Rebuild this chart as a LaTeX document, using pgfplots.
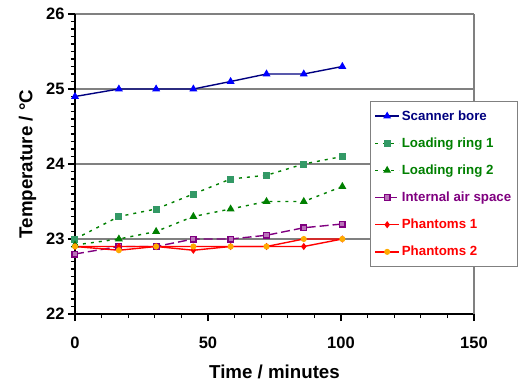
\documentclass[border=0pt]{standalone}
\usepackage{pgfplots}
\pgfplotsset{compat=1.18}
\usepackage{fontspec}
\setmainfont{Liberation Sans}
\definecolor{navyc}{RGB}{0,0,128}
\definecolor{bluem}{RGB}{0,0,255}
\definecolor{greenc}{RGB}{0,128,0}
\definecolor{seag}{RGB}{51,153,102}
\definecolor{purp}{RGB}{128,0,128}
\definecolor{redc}{RGB}{255,0,0}
\definecolor{orangem}{RGB}{255,170,0}
\definecolor{gridg}{RGB}{128,128,128}
\begin{document}
\begin{tikzpicture}[x=1pt,y=1pt]
\path[use as bounding box] (-75,-69) rectangle (455,314);
\begin{axis}[
  at={(0,0)}, anchor=south west, scale only axis,
  width=399pt, height=300pt,
  xmin=0, xmax=150, ymin=22, ymax=26,
  xtick={0,50,100,150}, ytick={22,23,24,25,26},
  minor x tick num=4, minor y tick num=9,
  axis x line*=bottom, axis y line*=left,
  axis line style={black, line width=1.2pt},
  tick style={black, line width=1.1pt},
  tick align=outside,
  major tick length=7pt, minor tick length=4pt,
  ymajorgrids, major grid style={gridg, line width=1.3pt},
  extra x ticks={150}, extra x tick labels={},
  extra x tick style={xmajorgrids=true, major tick length=0pt},
  /pgf/number format/assume math mode=true,
  ticklabel style={font=\fontsize{16.5}{19}\selectfont\bfseries},
  xticklabel style={yshift=-12pt},
  xlabel={Time / minutes}, ylabel={Temperature / °C},
  label style={font=\fontsize{18.7}{22}\selectfont\bfseries},
  xlabel style={yshift=-3pt},
  ylabel style={yshift=3pt},
  legend style={at={(0.739,0.71)}, anchor=north west, draw=gridg, line width=1.2pt,
    fill=white, font=\fontsize{13.3}{15}\selectfont\bfseries, row sep=12pt,
    inner xsep=4pt, inner ysep=7pt, cells={anchor=west}},
  legend image code/.code={\draw[mark repeat=2,mark phase=2] plot coordinates {(0pt,0pt) (12pt,0pt) (24pt,0pt)};},
  every axis plot/.append style={line width=1.4pt},
]
\addplot[navyc, mark=triangle*, mark options={bluem, fill=bluem, solid}, mark size=3.2pt]
  coordinates {(0,24.9) (16.5,25) (30.5,25) (44.5,25) (58.5,25.1) (72,25.2) (86,25.2) (100.5,25.3)};
\addlegendentry{\textcolor{navyc}{Scanner bore}}
\addplot[greenc, dash pattern=on 3pt off 5pt, mark=square*, mark options={seag, fill=seag, solid}, mark size=2.8pt]
  coordinates {(0,23.0) (16.5,23.3) (30.5,23.4) (44.5,23.6) (58.5,23.8) (72,23.85) (86,24.0) (100.5,24.1)};
\addlegendentry{\textcolor{greenc}{Loading ring 1}}
\addplot[greenc, dash pattern=on 3pt off 5pt, mark=triangle*, mark options={greenc, fill=greenc, solid}, mark size=3.2pt]
  coordinates {(0,22.92) (16.5,23.0) (30.5,23.1) (44.5,23.3) (58.5,23.4) (72,23.5) (86,23.5) (100.5,23.7)};
\addlegendentry{\textcolor{greenc}{Loading ring 2}}
\addplot[purp, dash pattern=on 9pt off 4pt, mark=square*, mark options={purp, fill=purp!55, solid}, mark size=2.8pt]
  coordinates {(0,22.8) (16.5,22.9) (30.5,22.9) (44.5,23.0) (58.5,23.0) (72,23.05) (86,23.15) (100.5,23.2)};
\addlegendentry{\textcolor{purp}{Internal air space}}
\addplot[redc, mark=diamond*, mark options={redc, fill=redc, solid}, mark size=2.5pt]
  coordinates {(0,22.9) (16.5,22.9) (30.5,22.9) (44.5,22.85) (58.5,22.9) (72,22.9) (86,22.9) (100.5,23.0)};
\addlegendentry{\textcolor{redc}{Phantoms 1}}
\addplot[redc, mark=*, mark options={orangem, fill=orangem, solid}, mark size=2.3pt]
  coordinates {(0,22.9) (16.5,22.85) (30.5,22.9) (44.5,22.9) (58.5,22.9) (72,22.9) (86,23.0) (100.5,23.0)};
\addlegendentry{\textcolor{redc}{Phantoms 2}}
\end{axis}
\end{tikzpicture}
\end{document}
